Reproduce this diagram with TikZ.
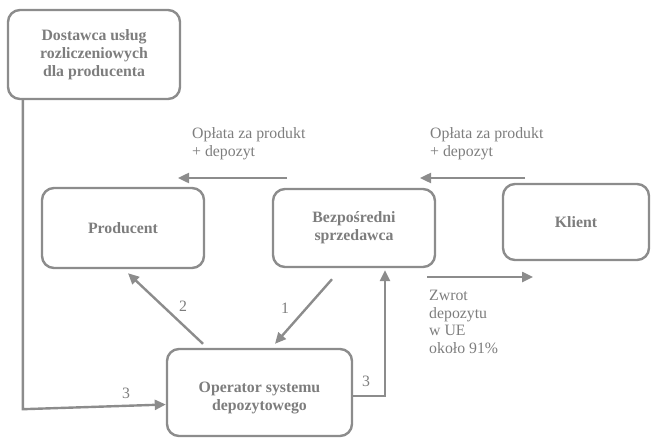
\documentclass[tikz,border=0pt]{standalone}
\usepackage{fontspec}
\setmainfont{Liberation Serif}
\usetikzlibrary{arrows.meta}
\definecolor{linegray}{RGB}{140,140,140}
\definecolor{textgray}{RGB}{125,125,125}
\tikzset{
  boxfont/.style={text=textgray, align=center,
    font=\fontsize{15.8}{18}\selectfont\bfseries},
  box/.style={draw=linegray, line width=2.4pt, rounded corners=12pt,
    fill=white, inner sep=0pt, boxfont},
  arr/.style={draw=linegray, line width=2.4pt,
    -{Triangle[length=11pt,width=10pt]}},
  lbl/.style={text=textgray, inner sep=0pt, align=left,
    font=\fontsize{15.8}{17.5}\selectfont},
  num/.style={text=textgray, inner sep=0pt,
    font=\fontsize{15.8}{18}\selectfont}
}
\begin{document}
\begin{tikzpicture}[x=1pt,y=-1pt]
\useasboundingbox (0,0) rectangle (653,441);

% boxes
\node[box, minimum width=172pt, minimum height=89pt] (dost) at (94,54.5)
  {Dostawca usług\\rozliczeniowych\\dla producenta};
\node[box, minimum width=162pt, minimum height=80pt] (prod) at (123,228) {Producent};
\node[box, minimum width=162pt, minimum height=78pt] (bez) at (354,228)
  {Bezpośredni\\sprzedawca};
\node[box, minimum width=146pt, minimum height=76pt] (kli) at (576,222) {Klient};
\node[box, minimum width=185pt, minimum height=87pt,
  label={[boxfont, inner sep=0pt, yshift=-6pt]center:{Operator systemu\\depozytowego}}]
  (op) at (259.5,392.5) {};

% payment flows
\coordinate (pa1) at (287,178);
\coordinate (pa2) at (178,178);
\coordinate (pb1) at (525,178);
\coordinate (pb2) at (420,178);
\draw[arr] (pa1) -- (pa2);
\draw[arr] (pb1) -- (pb2);
\node[lbl, anchor=west] (lpa) at (192,143.5) {Opłata za produkt\\+ depozyt};
\node[lbl, anchor=west] (lpb) at (430,143.5) {Opłata za produkt\\+ depozyt};

% deposit refund
\coordinate (z1) at (427,277);
\coordinate (z2) at (533,277);
\draw[arr] (z1) -- (z2);
\node[lbl, anchor=north west] (lz) at (429,290)
  {Zwrot\\depozytu\\w UE\\około 91\%};

% numbered flows
\draw[arr] ([xshift=-56.5pt,yshift=4pt]op.north) -- ([xshift=5pt,yshift=-4pt]prod.south);
\node[num] (n2) at (183,306) {2};
\draw[arr] ([xshift=-22pt,yshift=-11pt]bez.south) -- ([xshift=15.5pt,yshift=4pt]op.north);
\node[num] (n1) at (285,308) {1};
\draw[arr] ([yshift=-3.5pt]op.east) -| ([xshift=31pt,yshift=-2pt]bez.south);
\node[num] (n3a) at (366,381) {3};
\draw[arr] ([xshift=16pt]dost.south west) -- ++(0,309) -- ([yshift=-12pt]op.west);
\node[num] (n3b) at (126,393) {3};
\end{tikzpicture}
\end{document}
